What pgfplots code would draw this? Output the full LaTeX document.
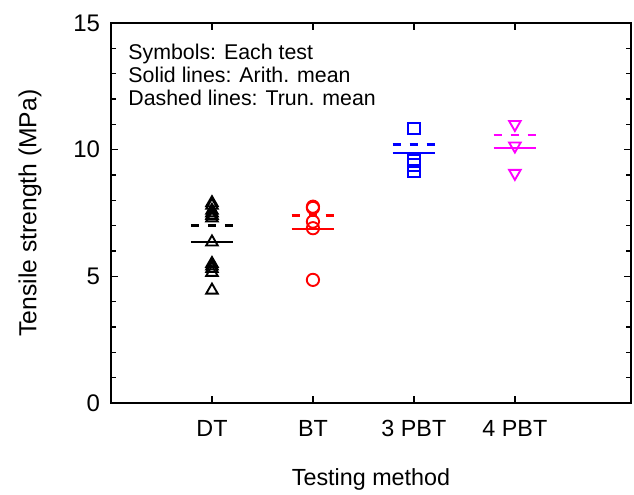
\documentclass[border=0pt]{standalone}
\usepackage{fontspec}
\setmainfont{Liberation Sans}
\usepackage{pgfplots}
\pgfplotsset{compat=1.18}
\definecolor{tsMag}{RGB}{255,0,255}

\begin{document}
\begin{tikzpicture}[x=1pt,y=1pt]
\begin{axis}[
  name=ax,
  scale only axis,
  width=390pt, height=285pt,
  xmin=0, xmax=5.15,
  ymin=0, ymax=15,
  xtick={1,2,3,4},
  xticklabels={DT, BT, 3 PBT, 4 PBT},
  ytick={0,5,10,15},
  minor y tick num=4,
  tick align=inside,
  major tick length=5pt,
  minor tick length=3.5pt,
  every tick/.style={black, line width=1pt},
  axis line style={line width=1.4pt},
  tick label style={font=\fontsize{18}{20}\selectfont},
  xticklabel style={font=\fontsize{17.5}{20}\selectfont},
  /pgf/number format/assume math mode=true,
  xticklabel style={anchor=center, yshift=-19pt},
  yticklabel style={anchor=east, inner sep=0pt, xshift=-8pt},
  xlabel={Testing method},
  ylabel={Tensile strength (MPa)},
  label style={font=\fontsize{18.5}{20}\selectfont},
  xlabel style={at={(axis description cs:0.5,-0.2)}, anchor=center,
                font=\fontsize{17.5}{20}\selectfont},
  ylabel style={at={(axis description cs:-0.156,0.5)}, anchor=center},
  clip=false,
]

% DT, each test
\addplot [only marks, black, mark=triangle, mark size=5pt, line width=1.4pt]
  coordinates {
    (1,7.9) (1,7.8) (1,7.6) (1,7.5) (1,7.4) (1,7.3)
    (1,6.35) (1,5.5) (1,5.4) (1,5.3) (1,5.15) (1,4.45)
  };
% BT
\addplot [only marks, red, mark=o, mark size=4.6pt, line width=1.4pt]
  coordinates {(2,7.75) (2,7.7) (2,7.16) (2,6.9) (2,4.86)};
% 3 PBT
\addplot [only marks, blue, mark=square, mark size=4.3pt, line width=1.4pt]
  coordinates {(3,10.84) (3,9.55) (3,9.4) (3,9.16)};
% 4 PBT
\addplot [only marks, tsMag, mark=triangle, mark size=5pt, line width=1.4pt,
          mark options={rotate=180}]
  coordinates {(4,11.0) (4,10.15) (4,9.07)};

% arithmetic means (solid)
\addplot [black, line width=2pt] coordinates {(0.79,6.36) (1.21,6.36)};
\addplot [red, line width=2pt] coordinates {(1.79,6.87) (2.21,6.87)};
\addplot [blue, line width=2pt] coordinates {(2.79,9.87) (3.21,9.87)};
\addplot [tsMag, line width=2pt] coordinates {(3.79,10.07) (4.21,10.07)};

% truncated means (dashed)
\addplot [black, line width=1.8pt, dash pattern=on 6pt off 6.75pt] coordinates {(0.79,7.0) (1.21,7.0)};
\addplot [red, line width=1.8pt, dash pattern=on 6pt off 6.75pt] coordinates {(1.79,7.4) (2.21,7.4)};
\addplot [blue, line width=1.8pt, dash pattern=on 6pt off 6.75pt] coordinates {(2.79,10.21) (3.21,10.21)};
\addplot [tsMag, line width=1.8pt, dash pattern=on 6pt off 6.75pt] coordinates {(3.79,10.58) (4.21,10.58)};

\node[anchor=base west, font=\fontsize{16}{18}\selectfont, inner sep=0pt]
  at (rel axis cs:0.033,0.904) {Symbols: Each test};
\node[anchor=base west, font=\fontsize{16}{18}\selectfont, inner sep=0pt]
  at (rel axis cs:0.033,0.843) {Solid lines: Arith. mean};
\node[anchor=base west, font=\fontsize{16}{18}\selectfont, inner sep=0pt]
  at (rel axis cs:0.033,0.783) {Dashed lines: Trun. mean};
\end{axis}
\useasboundingbox (ax.south west) ++(-83.25pt,-67.5pt) rectangle ([xshift=2.25pt,yshift=17.25pt]ax.north east);
\end{tikzpicture}
\end{document}
